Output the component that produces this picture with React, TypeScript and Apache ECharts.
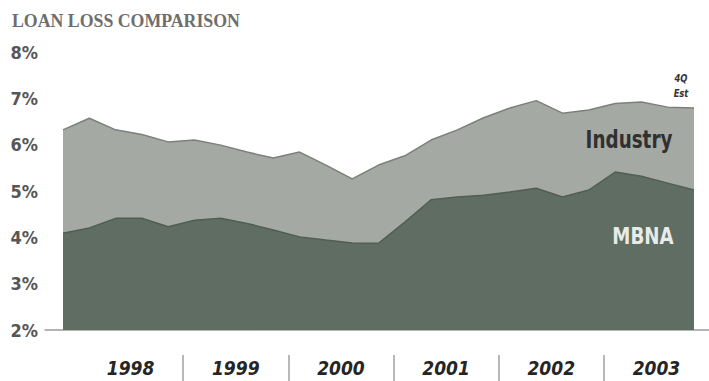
import React, { useEffect, useRef } from "react";
import * as echarts from "echarts";

const TITLE = "LOAN LOSS COMPARISON";
const YEARS = ["1998", "1999", "2000", "2001", "2002", "2003"];
// quarterly loss rates (%), first to last quarter shown
const INDUSTRY = [6.32, 6.57, 6.32, 6.22, 6.06, 6.1, 5.99, 5.84, 5.71, 5.84, 5.56, 5.26, 5.56, 5.76, 6.1, 6.32, 6.58, 6.79, 6.95, 6.68, 6.75, 6.89, 6.92, 6.81, 6.79];
const MBNA = [4.09, 4.2, 4.41, 4.41, 4.23, 4.37, 4.41, 4.3, 4.16, 4.01, 3.94, 3.88, 3.87, 4.33, 4.81, 4.87, 4.91, 4.98, 5.06, 4.87, 5.02, 5.41, 5.32, 5.17, 5.02];
const Y_MIN = 2;
const Y_MAX = 8;
const Y_STEP = 1;
const SERIES_NAMES = ["Industry", "MBNA"];
const NOTE = ["4Q", "Est"];

const NARROW = '"Liberation Sans Narrow", "DejaVu Sans Condensed", "Roboto Condensed", sans-serif';

export default function App() {
  const ref = useRef<HTMLDivElement>(null);
  useEffect(() => {
    if (!ref.current) return;
    const chart = echarts.init(ref.current, undefined, { renderer: "svg" });
    const n = INDUSTRY.length - 1;
    const plotL = 63, plotR = 694, axisL = 45, axisR = 709;
    const pxPer = (plotR - plotL) / n;
    chart.setOption({
      animation: false,
      backgroundColor: "#ffffff",
      title: {
        text: TITLE,
        left: 12,
        top: 12,
        padding: 0,
        textStyle: { fontFamily: '"Liberation Serif", "DejaVu Serif", serif', fontSize: 17.8, fontWeight: "bold", color: "#6e6e6e" },
      },
      grid: [
        { left: axisL, right: 0, top: 52, bottom: 51 },
        { left: 78, right: -1, top: 355, bottom: 0 },
      ],
      xAxis: [
        {
          type: "value",
          gridIndex: 0,
          min: -(plotL - axisL) / pxPer,
          max: n + (axisR - plotR) / pxPer,
          axisLine: { show: true, lineStyle: { color: "#9c9c9c", width: 1.5 } },
          axisTick: { show: false },
          axisLabel: { show: false },
          splitLine: { show: false },
        },
        {
          type: "category",
          gridIndex: 1,
          position: "top",
          data: YEARS,
          boundaryGap: true,
          axisLine: { show: false },
          axisTick: { show: false },
          axisLabel: {
            inside: true,
            interval: 0,
            margin: 3,
            fontFamily: NARROW,
            fontStyle: "italic",
            fontWeight: "bold",
            fontSize: 19,
            color: "#252525",
          },
          splitLine: {
            show: true,
            interval: 0,
            showMinLine: false,
            showMaxLine: false,
            lineStyle: { color: "#a0a0a0", width: 1.5 },
          },
        },
      ],
      yAxis: [
        {
          type: "value",
          gridIndex: 0,
          min: Y_MIN,
          max: Y_MAX,
          interval: Y_STEP,
          axisLine: { show: false },
          axisTick: { show: false },
          splitLine: { show: false },
          axisLabel: {
            formatter: "{value}%",
            margin: 7,
            fontFamily: NARROW,
            fontWeight: "bold",
            fontSize: 18,
            color: "#565656",
          },
        },
        { type: "value", gridIndex: 1, show: false },
      ],
      series: [
        {
          name: SERIES_NAMES[0],
          type: "line",
          xAxisIndex: 0,
          yAxisIndex: 0,
          data: INDUSTRY.map((v, i) => [i, v]),
          symbol: "none",
          lineStyle: { color: "#7b807b", width: 1.5 },
          areaStyle: { color: "#a5a9a4", opacity: 1, origin: "start" },
          z: 2,
        },
        {
          name: SERIES_NAMES[1],
          type: "line",
          xAxisIndex: 0,
          yAxisIndex: 0,
          data: MBNA.map((v, i) => [i, v]),
          symbol: "none",
          lineStyle: { color: "#525e55", width: 1.5 },
          areaStyle: { color: "#5f6d63", opacity: 1, origin: "start" },
          z: 3,
        },
      ],
      graphic: [
        {
          type: "text",
          x: 629,
          y: 139,
          scaleX: 0.85,
          z: 10,
          style: { text: SERIES_NAMES[0], fontFamily: NARROW, fontWeight: "bold", fontSize: 24, fill: "#303030", align: "center", verticalAlign: "middle" },
        },
        {
          type: "text",
          x: 643,
          y: 236,
          scaleX: 0.88,
          z: 10,
          style: { text: SERIES_NAMES[1], fontFamily: NARROW, fontWeight: "bold", fontSize: 23, fill: "#e8ebe7", align: "center", verticalAlign: "middle" },
        },
        {
          type: "text",
          x: 681,
          y: 78,
          scaleX: 0.85,
          z: 10,
          style: { text: NOTE[0], fontFamily: NARROW, fontStyle: "italic", fontWeight: "bold", fontSize: 11, fill: "#333", align: "center", verticalAlign: "middle" },
        },
        {
          type: "text",
          x: 681,
          y: 93,
          scaleX: 0.85,
          z: 10,
          style: { text: NOTE[1], fontFamily: NARROW, fontStyle: "italic", fontWeight: "bold", fontSize: 11, fill: "#333", align: "center", verticalAlign: "middle" },
        },
      ],
    });
    return () => chart.dispose();
  }, []);
  return <div ref={ref} style={{ position: "fixed", left: 0, top: 0, width: 709, height: 381 }} />;
}
